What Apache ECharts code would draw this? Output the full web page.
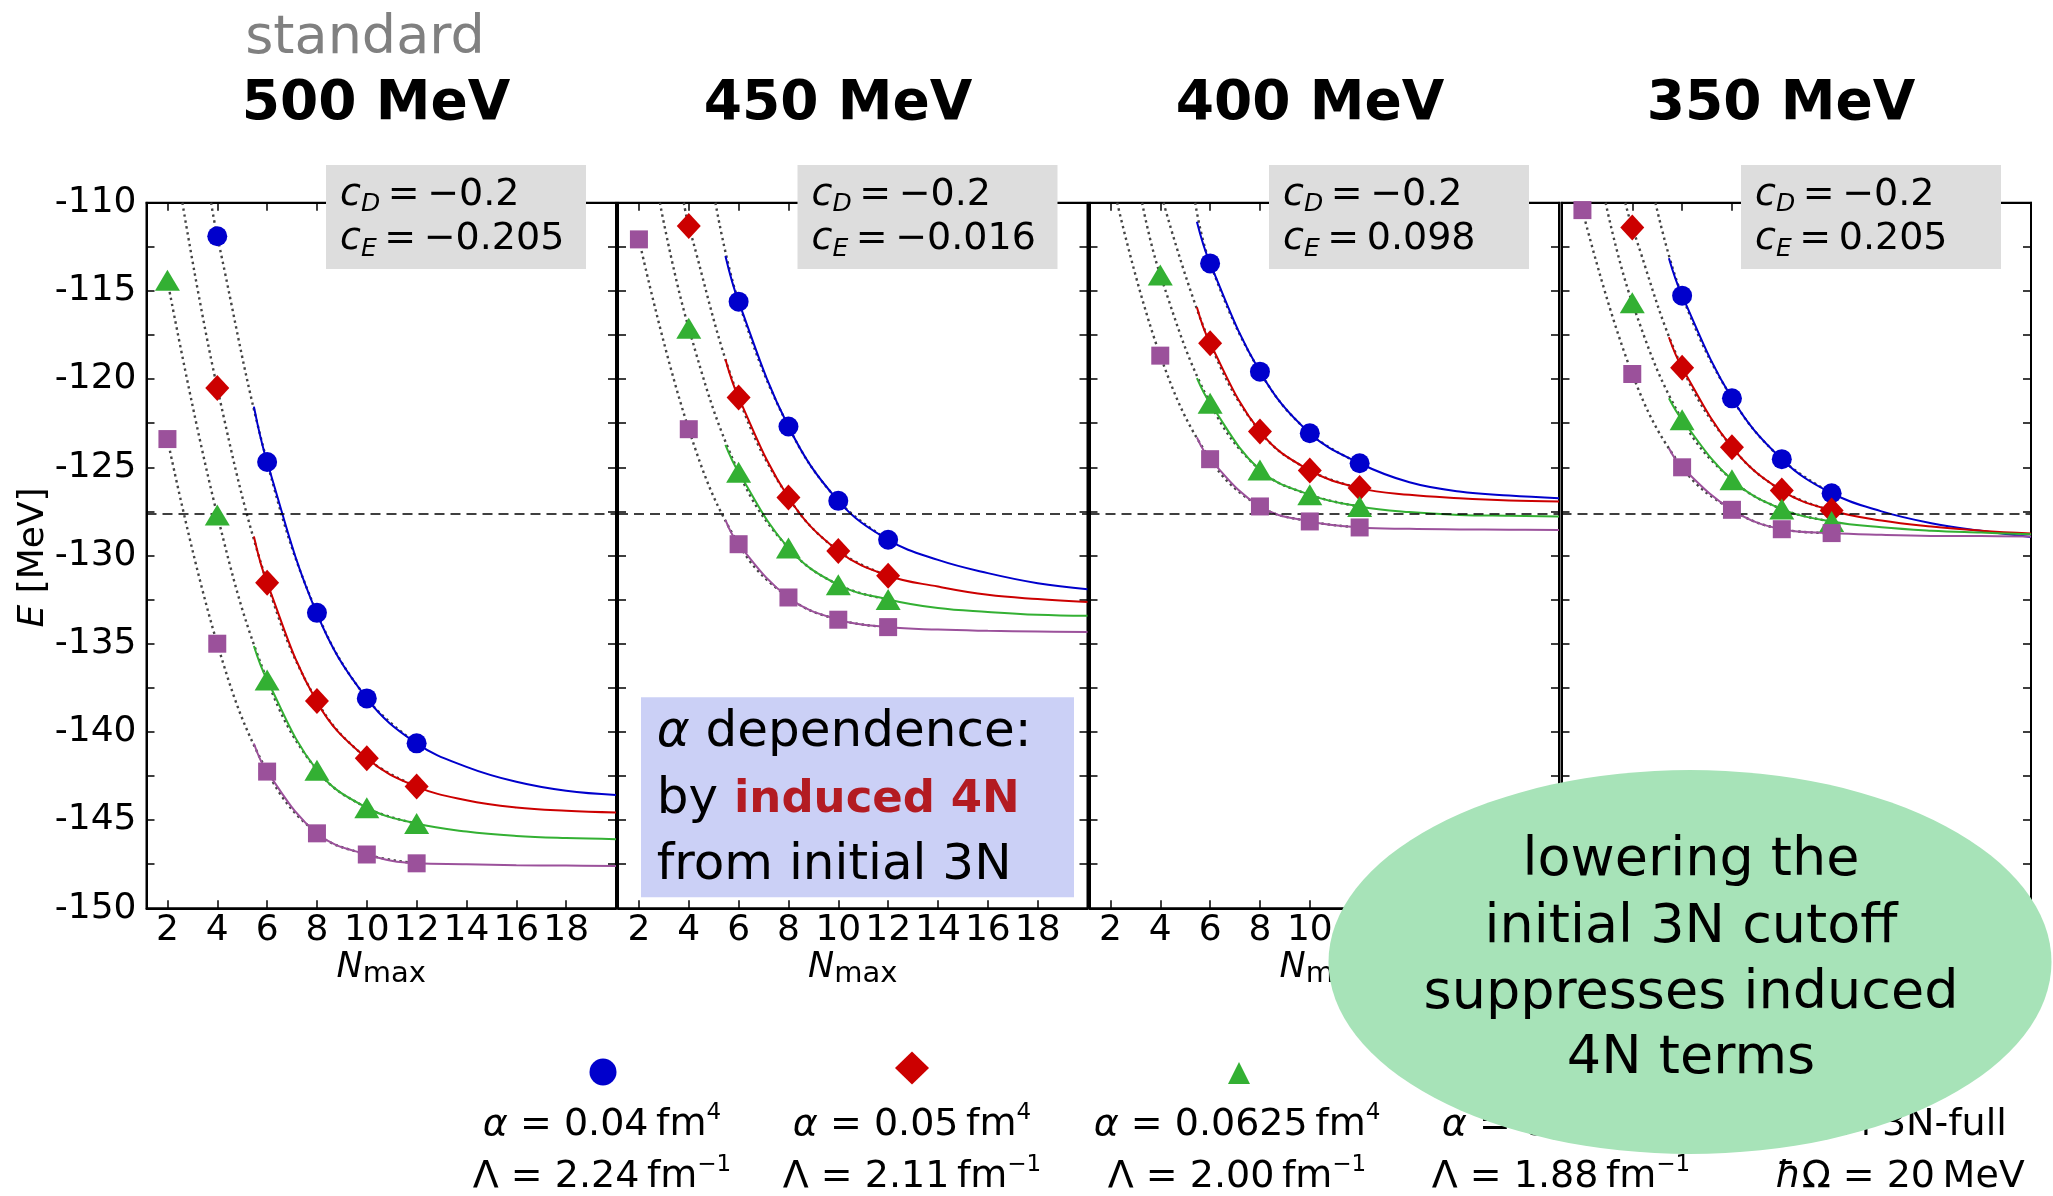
<!DOCTYPE html>
<html>
<head>
<meta charset="utf-8">
<script src="https://cdn.jsdelivr.net/npm/echarts@6/dist/echarts.min.js"></script>
<style>
html,body{margin:0;padding:0;background:#fff;}
#c{width:2053px;height:1196px;}
</style>
</head>
<body>
<div id="c"></div>
<script>
// ---------------- data ----------------
const nmax = [2, 4, 6, 8, 10, 12];
const fitN = [5.47, 6, 8, 10, 12, 14, 16, 18, 20];
const expE = -127.62;
const xTickLabels = [2, 4, 6, 8, 10, 12, 14, 16, 18];
const yTickLabels = [-150, -145, -140, -135, -130, -125, -120, -115, -110];
const panelTitles = ['500 MeV', '450 MeV', '400 MeV', '350 MeV'];
const cDvals = ['\u22120.2', '\u22120.2', '\u22120.2', '\u22120.2'];
const cEvals = ['\u22120.205', '\u22120.016', '0.098', '0.205'];
const alphaLabels = ['0.04', '0.05', '0.0625', '0.08'];
const lambdaLabels = ['2.24', '2.11', '2.00', '1.88'];

// 500 MeV  (alpha = 0.04, 0.05, 0.0625, 0.08 fm^4)
const e500_a004  = [null, -111.9, -124.7, -133.25, -138.1, -140.65];
const e500_a005  = [null, -120.5, -131.55, -138.25, -141.5, -143.1];
const e500_a0625 = [-114.4, -127.7, -137.06, -142.17, -144.3, -145.19];
const e500_a008  = [-123.4, -135.0, -142.25, -145.75, -146.95, -147.45];
const fit500_a004  = [-121.56, -124.7, -133.3, -138.1, -140.65, -141.98, -142.83, -143.34, -143.58];
const fit500_a005  = [-128.92, -131.55, -138.3, -141.5, -143.1, -143.87, -144.28, -144.47, -144.57];
const fit500_a0625 = [-135.13, -137.06, -142.17, -144.3, -145.19, -145.65, -145.9, -146.02, -146.08];
const fit500_a008  = [-140.66, -142.25, -145.75, -146.95, -147.45, -147.5, -147.56, -147.58, -147.6];
const dotTop500 = [3.75, 2.6, null, null];

// 450 MeV
const e450_a004  = [null, null, -115.61, -122.69, -126.9, -129.11];
const e450_a005  = [null, -111.32, -121.05, -126.71, -129.74, -131.15];
const e450_a0625 = [null, -117.12, -125.28, -129.58, -131.66, -132.49];
const e450_a008  = [-112.08, -122.84, -129.36, -132.38, -133.64, -134.06];
const fit450_a004  = [-113.02, -115.61, -122.69, -126.9, -129.11, -130.25, -131.0, -131.57, -131.91];
const fit450_a005  = [-118.88, -121.05, -126.71, -129.74, -131.15, -131.76, -132.23, -132.47, -132.64];
const fit450_a0625 = [-123.73, -125.28, -129.58, -131.66, -132.49, -132.98, -133.2, -133.36, -133.42];
const fit450_a008  = [-127.98, -129.36, -132.38, -133.64, -134.06, -134.2, -134.27, -134.31, -134.34];
const dotTop450 = [5.07, 3.8, 2.84, null];

// 400 MeV
const e400_a004  = [null, null, -113.44, -119.58, -123.07, -124.77];
const e400_a005  = [null, null, -117.97, -122.97, -125.18, -126.18];
const e400_a0625 = [null, -114.1, -121.37, -125.15, -126.56, -127.22];
const e400_a008  = [null, -118.67, -124.54, -127.22, -128.07, -128.41];
const fit400_a004  = [-111.08, -113.44, -119.58, -123.07, -124.77, -125.85, -126.37, -126.6, -126.75];
const fit400_a005  = [-115.93, -117.97, -122.97, -125.18, -126.18, -126.56, -126.75, -126.88, -126.94];
const fit400_a0625 = [-119.95, -121.37, -125.15, -126.56, -127.22, -127.54, -127.7, -127.75, -127.79];
const fit400_a008  = [-123.3, -124.54, -127.22, -128.07, -128.41, -128.49, -128.52, -128.54, -128.55];
const dotTop400 = [5.4, 4.13, 3.27, 2.27];

// 350 MeV
const e350_a004  = [null, null, -115.27, -121.09, -124.54, -126.47];
const e350_a005  = [null, -111.4, -119.35, -123.86, -126.32, -127.45];
const e350_a0625 = [null, -115.67, -122.31, -125.71, -127.37, -128.07];
const e350_a008  = [-110.42, -119.71, -125.0, -127.41, -128.51, -128.73];
const fit350_a004  = [-113.15, -115.27, -121.09, -124.54, -126.47, -127.5, -128.17, -128.6, -128.95];
const fit350_a005  = [-117.63, -119.35, -123.86, -126.32, -127.45, -128.02, -128.36, -128.59, -128.75];
const fit350_a0625 = [-121.09, -122.31, -125.71, -127.37, -128.07, -128.4, -128.59, -128.7, -128.8];
const fit350_a008  = [-123.92, -125.0, -127.41, -128.51, -128.73, -128.83, -128.89, -128.9, -128.92];
const dotTop350 = [4.93, 3.72, 2.93, null];

// ---------------- layout & style ----------------
const FONT = 'DejaVu Sans';
const panels = [
  {pts: [e500_a004, e500_a005, e500_a0625, e500_a008], fit: [fit500_a004, fit500_a005, fit500_a0625, fit500_a008], top: dotTop500},
  {pts: [e450_a004, e450_a005, e450_a0625, e450_a008], fit: [fit450_a004, fit450_a005, fit450_a0625, fit450_a008], top: dotTop450},
  {pts: [e400_a004, e400_a005, e400_a0625, e400_a008], fit: [fit400_a004, fit400_a005, fit400_a0625, fit400_a008], top: dotTop400},
  {pts: [e350_a004, e350_a005, e350_a0625, e350_a008], fit: [fit350_a004, fit350_a005, fit350_a0625, fit350_a008], top: dotTop350}
];
const gridLefts = [146.5, 618, 1089.5, 1561.5];
const gridW = 469.5, gridTop = 202.7, gridH = 705.6;
const xMin = 1.16, xMax = 20, yMin = -150, yMax = -110;
const colors = ['#0000cc', '#cc0000', '#33b033', '#9b519b'];
const symbols = ['circle', 'diamond', 'triangle', 'rect'];
const symSizes = [20, [24, 26], [25, 21], [18, 18]];
const seriesNames = alphaLabels.map(a => '\u03b1 = ' + a + ' fm\u2074');

const chart = echarts.init(document.getElementById('c'), null, {renderer: 'canvas', width: 2053, height: 1196});

const grids = gridLefts.map(l => ({
  left: l, top: gridTop, width: gridW, height: gridH,
  show: true, borderColor: '#000', borderWidth: 2, backgroundColor: 'rgba(0,0,0,0)',
  containLabel: false, outerBoundsMode: 'none'
}));

const lineStyleAxis = {show: true, onZero: false, lineStyle: {color: '#000', width: 2}};

const xAxes = [], yAxes = [];
gridLefts.forEach((l, p) => {
  ['bottom', 'top'].forEach(pos => {
    xAxes.push({
      type: 'value', gridIndex: p, position: pos, min: xMin, max: xMax,
      axisLine: lineStyleAxis,
      axisTick: {show: true, inside: true, length: 8, customValues: xTickLabels, lineStyle: {color: '#000', width: 1.5}},
      splitLine: {show: false},
      axisLabel: pos === 'bottom' ? {
        show: true, fontSize: 36, fontFamily: FONT, color: '#000', margin: 4,
        customValues: xTickLabels, formatter: v => String(v)
      } : {show: false}
    });
  });
  ['left', 'right'].forEach(pos => {
    yAxes.push({
      type: 'value', gridIndex: p, position: pos, min: yMin, max: yMax, interval: 2.5,
      axisLine: lineStyleAxis,
      axisTick: {show: true, inside: true, length: 8, lineStyle: {color: '#000', width: 1.5}},
      splitLine: {show: false},
      axisLabel: (p === 0 && pos === 'left') ? {
        show: true, fontSize: 36, fontFamily: FONT, color: '#000', margin: 10,
        customValues: yTickLabels, formatter: v => String(v)
      } : {show: false}
    });
  });
});

const series = [];
panels.forEach((pp, p) => {
  pp.pts.forEach((arr, s) => {
    const dot = [];
    if (pp.top[s] != null) dot.push([pp.top[s], yMax]);
    nmax.forEach((n, i) => { if (arr[i] != null) dot.push([n, arr[i]]); });
    series.push({
      type: 'line', name: 'dotted', xAxisIndex: 2 * p, yAxisIndex: 2 * p, data: dot,
      smooth: 0.4, symbol: 'none', showSymbol: false, silent: true,
      lineStyle: {color: '#444444', width: 2.4, type: [2.4, 3.6]}, z: 2
    });
    const fitSeries = {
      type: 'line', name: 'fit', xAxisIndex: 2 * p, yAxisIndex: 2 * p,
      data: fitN.map((n, i) => [n, pp.fit[s][i]]),
      smooth: 0.4, symbol: 'none', showSymbol: false, silent: true,
      lineStyle: {color: colors[s], width: 2}, z: 3
    };
    if (s === 0) {
      fitSeries.markLine = {
        silent: true, symbol: ['none', 'none'], label: {show: false},
        lineStyle: {color: '#000', width: 1.5, type: [10, 6]},
        data: [{yAxis: expE}], animation: false
      };
    }
    series.push(fitSeries);
  });
  pp.pts.forEach((arr, s) => {
    const pts = [];
    nmax.forEach((n, i) => { if (arr[i] != null) pts.push([n, arr[i]]); });
    series.push({
      type: 'scatter', name: seriesNames[s], xAxisIndex: 2 * p, yAxisIndex: 2 * p, data: pts,
      symbol: symbols[s], symbolSize: symSizes[s], itemStyle: {color: colors[s], opacity: 1}, z: 5
    });
  });
});

// legends: one icon per entry, placed above its text
const legendCenters = [[603, 1072], [912, 1068], [1239, 1073], [1561, 1070]];
const legendSizes = [[27, 27], [34, 33], [22, 22], [22, 22]];
const legends = seriesNames.map((nm, s) => ({
  data: [nm], icon: symbols[s], orient: 'horizontal',
  left: legendCenters[s][0] - legendSizes[s][0] / 2, top: legendCenters[s][1] - legendSizes[s][1] / 2,
  itemWidth: legendSizes[s][0], itemHeight: legendSizes[s][1],
  padding: 0, itemGap: 0, selectedMode: false, formatter: () => '',
  textStyle: {fontSize: 1, color: 'rgba(0,0,0,0)'}, z: 4
}));

// ---------------- annotations ----------------
const G = [];
const txt = (x, y, text, extra, z) => ({
  type: 'text', x: x, y: y, z: z || 20,
  style: Object.assign({text: text, fontFamily: FONT, fill: '#000', align: 'center', verticalAlign: 'middle'}, extra)
});

G.push(txt(365, 38.5, 'standard', {fontSize: 54, fill: '#808080'}));
const titleX = [376, 838, 1310, 1781];
panelTitles.forEach((t, p) => G.push(txt(titleX[p], 105, t, {fontSize: 55, fontWeight: 'bold'})));

// cD / cE boxes
gridLefts.forEach((l, p) => {
  const bx = l + gridW - 30 - 260;
  G.push({type: 'rect', z: 20, shape: {x: bx, y: 165, width: 260, height: 104}, style: {fill: '#dddddd'}});
  const rich = {
    c: {fontSize: 38, fontStyle: 'italic', fontFamily: FONT, fill: '#000', lineHeight: 44},
    s: {fontSize: 25, fontStyle: 'italic', fontFamily: FONT, fill: '#000', lineHeight: 23, verticalAlign: 'bottom'},
    t: {fontSize: 38, fontFamily: FONT, fill: '#000', lineHeight: 44}
  };
  G.push(txt(bx + 14, 195, '{c|c}{s|D}{t|\u2009=\u2009' + cDvals[p] + '}', {align: 'left', rich: rich}, 21));
  G.push(txt(bx + 14, 239.5, '{c|c}{s|E}{t|\u2009=\u2009' + cEvals[p] + '}', {align: 'left', rich: rich}, 21));
});

// x-axis names and y-axis name
gridLefts.forEach(l => {
  G.push(txt(l + gridW / 2, 967.9, '{n|N}{m|max}', {
    rich: {
      n: {fontSize: 35, fontStyle: 'italic', fontFamily: FONT, fill: '#000', lineHeight: 42},
      m: {fontSize: 29, fontFamily: FONT, fill: '#000', lineHeight: 28, verticalAlign: 'bottom'}
    }
  }, 10));
});
G.push(Object.assign(txt(33.5, 557.4, '{e|E} [MeV]', {
  fontSize: 36,
  rich: {e: {fontSize: 36, fontStyle: 'italic', fontFamily: FONT, fill: '#000'}}
}, 10), {rotation: Math.PI / 2}));

// blue note box
G.push({type: 'rect', z: 20, shape: {x: 641, y: 697.3, width: 433, height: 200}, style: {fill: '#cbd0f6'}});
G.push(txt(656.7, 733.5, '{i|\u03b1} dependence:', {align: 'left', fontSize: 50,
  rich: {i: {fontSize: 50, fontStyle: 'italic', fontFamily: FONT, fill: '#000'}}}, 21));
G.push(txt(656.7, 800.2, 'by {b|induced 4N}', {align: 'left', fontSize: 50,
  rich: {b: {fontSize: 45, fontWeight: 'bold', fontFamily: FONT, fill: '#b31b22'}}}, 21));
G.push(txt(656.7, 866.5, 'from initial 3N', {align: 'left', fontSize: 50}, 21));

// legend texts
const legTextX = [602, 912, 1237, 1561];
const supRich = {
  i: {fontSize: 38, fontStyle: 'italic', fontFamily: FONT, fill: '#000', lineHeight: 46},
  sup: {fontSize: 23, fontFamily: FONT, fill: '#000', lineHeight: 23, verticalAlign: 'top'}
};
alphaLabels.forEach((a, s) => {
  G.push(txt(legTextX[s], 1124.9, '{i|\u03b1} = ' + a + '\u2009fm{sup|4}', {fontSize: 38, lineHeight: 46, rich: supRich}, 10));
  G.push(txt(legTextX[s], 1176.9, '\u039b = ' + lambdaLabels[s] + '\u2009fm{sup|\u22121}', {fontSize: 38, lineHeight: 46, rich: supRich}, 10));
});
G.push(txt(1900, 1124.9, 'NN+3N-full', {fontSize: 38}, 10));
G.push(txt(1900, 1176.9, '{i|\u0127}\u03a9 = 20\u2009MeV', {fontSize: 38, lineHeight: 46, rich: supRich}, 10));

// green ellipse note
G.push({type: 'circle', z: 30, x: 1690, y: 962, scaleX: 361.5 / 192, scaleY: 1,
  shape: {cx: 0, cy: 0, r: 192}, style: {fill: '#a7e3b8'}});
['lowering the', 'initial 3N cutoff', 'suppresses induced', '4N terms'].forEach((t, i) => {
  G.push(txt(1691, [861, 927.6, 993.6, 1059.3][i], t, {fontSize: 54}, 31));
});

chart.setOption({
  animation: false,
  backgroundColor: '#ffffff',
  textStyle: {fontFamily: FONT},
  grid: grids,
  xAxis: xAxes,
  yAxis: yAxes,
  legend: legends,
  series: series,
  graphic: {elements: G}
});
</script>
</body>
</html>
